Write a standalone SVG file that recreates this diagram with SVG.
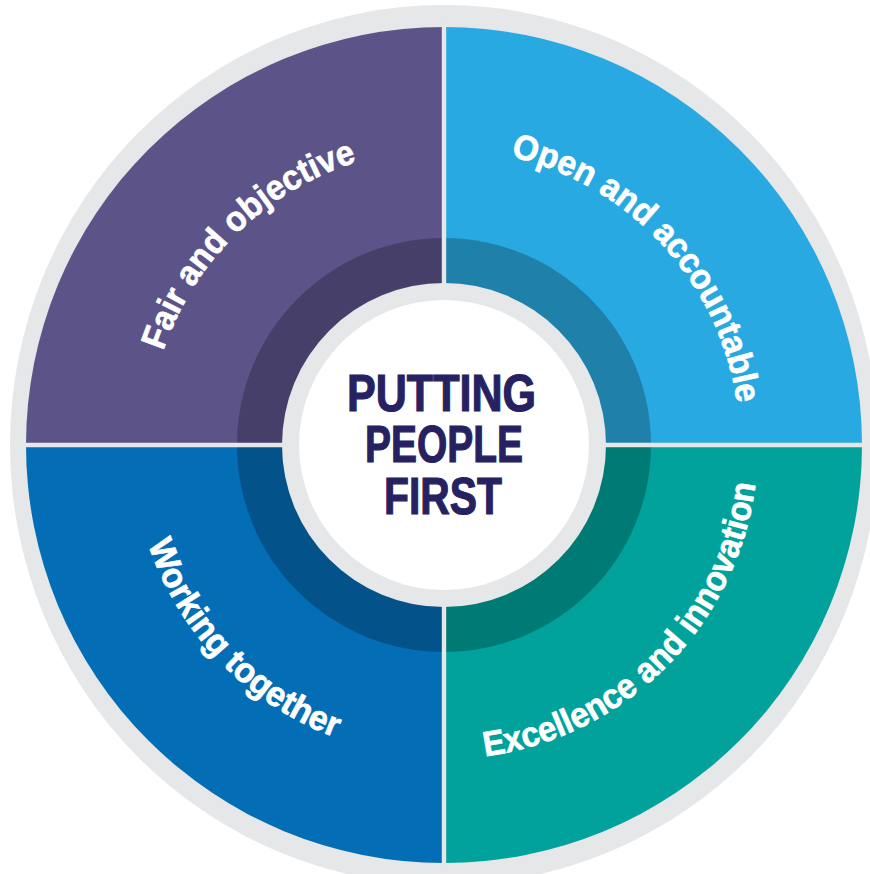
<svg xmlns="http://www.w3.org/2000/svg" width="870" height="874" viewBox="0 0 870 874">
  <style>
    .lbl { font-family: "Liberation Sans", Arial, sans-serif; font-weight: bold; font-size: 35px; fill: #ffffff; stroke: #ffffff; stroke-width: 0.7px; }
    .ctr { font-family: "Liberation Sans", Arial, sans-serif; font-weight: bold; font-size: 52px; fill: #262262; stroke: #262262; stroke-width: 1.2px; }
    .sep { stroke: #e6e7e9; }
  </style>
  <defs>
    <path id="arcFair" d="M163.3,351.1 A296,296 0 0 1 357.5,161.9"/>
    <path id="arcOpen" d="M510.6,156.6 A296,296 0 0 1 737.1,403.8"/>
    <path id="arcWork" d="M148.1,544.0 A312,312 0 0 0 334.7,737.3"/>
    <path id="arcExc" d="M485.0,756.3 A314,314 0 0 0 755.6,483.3"/>
  </defs>
  <rect x="0" y="0" width="870" height="874" fill="#ffffff"/>
  <ellipse id="outer-ring" cx="444" cy="445" rx="434" ry="440" fill="#e6e7e9"/>

  <g id="fair-and-objective">
    <path d="M444,445 L26,445 A418,418 0 0 1 444,27 Z" fill="#5c5489"/>
    <path d="M444,445 L237,445 A207,207 0 0 1 444,238 Z" fill="#463f6a"/>
    <text class="lbl"><textPath href="#arcFair" textLength="281" lengthAdjust="spacingAndGlyphs">Fair and objective</textPath></text>
  </g>
  <g id="open-and-accountable">
    <path d="M444,445 L444,27 A418,418 0 0 1 862,445 Z" fill="#29a9e1"/>
    <path d="M444,445 L444,238 A207,207 0 0 1 651,445 Z" fill="#1f80aa"/>
    <text class="lbl"><textPath href="#arcOpen" textLength="356" lengthAdjust="spacingAndGlyphs">Open and accountable</textPath></text>
  </g>
  <g id="excellence-and-innovation">
    <path d="M444,445 L862,445 A418,418 0 0 1 444,863 Z" fill="#01a29b"/>
    <path d="M444,445 L651,445 A207,207 0 0 1 444,652 Z" fill="#007a74"/>
    <text class="lbl"><textPath href="#arcExc" textLength="413" lengthAdjust="spacingAndGlyphs">Excellence and innovation</textPath></text>
  </g>
  <g id="working-together">
    <path d="M444,445 L444,863 A418,418 0 0 1 26,445 Z" fill="#036db5"/>
    <path d="M444,445 L444,652 A207,207 0 0 1 237,445 Z" fill="#03528a"/>
    <text class="lbl"><textPath href="#arcWork" textLength="278" lengthAdjust="spacingAndGlyphs">Working together</textPath></text>
  </g>

  <g id="separators">
    <line class="sep" x1="444" y1="20" x2="444" y2="870" stroke-width="4.4"/>
    <line class="sep" x1="15" y1="445" x2="870" y2="445" stroke-width="4.6"/>
  </g>

  <g id="center">
    <circle cx="444" cy="445" r="162" fill="#e6e7e9"/>
    <circle cx="444" cy="445" r="145" fill="#ffffff"/>
    <text class="ctr" x="347" y="411" textLength="189" lengthAdjust="spacingAndGlyphs">PUTTING</text>
    <text class="ctr" x="365" y="462" textLength="158" lengthAdjust="spacingAndGlyphs">PEOPLE</text>
    <text class="ctr" x="384" y="514" textLength="118" lengthAdjust="spacingAndGlyphs">FIRST</text>
  </g>
</svg>
